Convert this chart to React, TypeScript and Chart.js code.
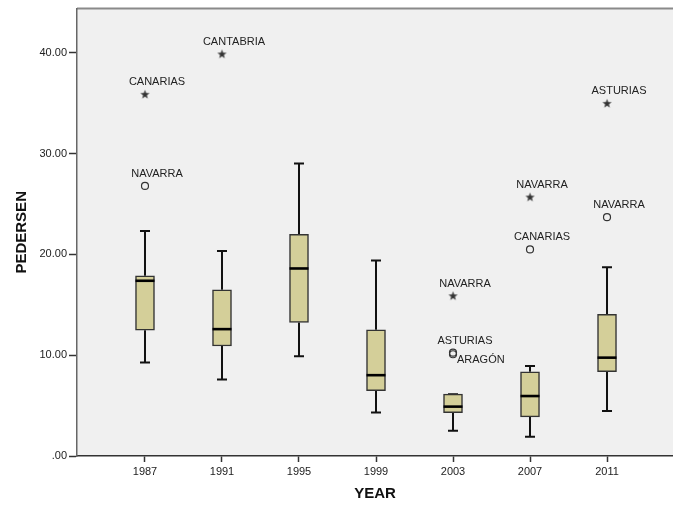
import React, { useEffect, useRef } from 'react';
import { Chart, registerables } from 'chart.js';
Chart.register(...registerables);

// ---- data ----
const years = ['1987', '1991', '1995', '1999', '2003', '2007', '2011'];
const lowerWhisker = [9.27, 7.59, 9.89, 4.31, 2.5, 1.9, 4.47];
const q1 = [12.49, 10.92, 13.25, 6.48, 4.31, 3.88, 8.38];
const median = [17.39, 12.59, 18.61, 8.02, 4.9, 5.95, 9.76];
const q3 = [17.88, 16.5, 21.99, 12.52, 6.14, 8.35, 14.07];
const upperWhisker = [22.32, 20.35, 29.02, 19.4, 6.14, 8.94, 18.74];

// extreme values (stars)
const extremeYearIdx = [0, 1, 4, 5, 6];
const extremeValues = [35.9, 39.9, 15.9, 25.7, 35.0];
const extremeNames = ['CANARIAS', 'CANTABRIA', 'NAVARRA', 'NAVARRA', 'ASTURIAS'];

// outliers (circles)
const outlierYearIdx = [0, 4, 4, 5, 6];
const outlierValues = [26.8, 10.25, 10.1, 20.5, 23.7];
const outlierNames = ['NAVARRA', 'ASTURIAS', 'ARAGÓN', 'CANARIAS', 'NAVARRA'];

const yTicks = [0, 10, 20, 30, 40];

const FONT = '"Liberation Sans", Arial, sans-serif';

function makeStar(): HTMLCanvasElement {
  const c = document.createElement('canvas');
  c.width = 11;
  c.height = 11;
  const g = c.getContext('2d')!;
  g.fillStyle = '#333';
  g.beginPath();
  const cx = 5.5, cy = 5.8, ro = 4.8, ri = 2.0;
  for (let i = 0; i < 10; i++) {
    const r = i % 2 === 0 ? ro : ri;
    const a = -Math.PI / 2 + (i * Math.PI) / 5;
    const px = cx + r * Math.cos(a);
    const py = cy + r * Math.sin(a);
    if (i === 0) g.moveTo(px, py);
    else g.lineTo(px, py);
  }
  g.closePath();
  g.fill();
  return c;
}

const boxPlugin = {
  id: 'boxDecor',
  beforeDraw(chart: any) {
    const { ctx, chartArea: a } = chart;
    ctx.save();
    ctx.fillStyle = '#F0F0F0';
    ctx.fillRect(a.left, a.top, a.right - a.left, a.bottom - a.top);
    ctx.strokeStyle = '#8A8A8A';
    ctx.lineWidth = 2;
    ctx.beginPath();
    ctx.moveTo(a.left, a.top);
    ctx.lineTo(a.right, a.top);
    ctx.stroke();
    ctx.restore();
  },
  beforeDatasetsDraw(chart: any) {
    const { ctx } = chart;
    const xs = chart.scales.x;
    const ys = chart.scales.y;
    ctx.save();
    ctx.strokeStyle = '#111';
    ctx.lineWidth = 2;
    for (let i = 0; i < years.length; i++) {
      const x = xs.getPixelForValue(i);
      const yHi = ys.getPixelForValue(upperWhisker[i]);
      const yQ3 = ys.getPixelForValue(q3[i]);
      const yLo = ys.getPixelForValue(lowerWhisker[i]);
      const yQ1 = ys.getPixelForValue(q1[i]);
      ctx.beginPath();
      ctx.moveTo(x, yQ3);
      ctx.lineTo(x, yHi);
      ctx.moveTo(x - 5, yHi);
      ctx.lineTo(x + 5, yHi);
      ctx.moveTo(x, yQ1);
      ctx.lineTo(x, yLo);
      ctx.moveTo(x - 5, yLo);
      ctx.lineTo(x + 5, yLo);
      ctx.stroke();
    }
    ctx.restore();
  },
  afterDatasetsDraw(chart: any) {
    const { ctx } = chart;
    const xs = chart.scales.x;
    const ys = chart.scales.y;
    ctx.save();
    ctx.strokeStyle = '#000';
    ctx.lineWidth = 2.6;
    for (let i = 0; i < years.length; i++) {
      const x = xs.getPixelForValue(i);
      const y = ys.getPixelForValue(median[i]);
      ctx.beginPath();
      ctx.moveTo(x - 9.5, y);
      ctx.lineTo(x + 9.5, y);
      ctx.stroke();
    }
    // labels
    ctx.font = '11px ' + FONT;
    ctx.fillStyle = '#222';
    chart.data.datasets.forEach((ds: any, di: number) => {
      if (!ds.names) return;
      const meta = chart.getDatasetMeta(di);
      meta.data.forEach((pt: any, k: number) => {
        const v = ds.data[k];
        const crowded = ds.data.some(
          (o: any, j: number) => j !== k && o.x === v.x && o.y > v.y && o.y - v.y < 1
        );
        if (crowded) {
          ctx.textAlign = 'left';
          ctx.textBaseline = 'middle';
          ctx.fillText(ds.names[k], pt.x + 4, pt.y + 6);
        } else {
          ctx.textAlign = 'center';
          ctx.textBaseline = 'middle';
          ctx.fillText(ds.names[k], pt.x + 12, pt.y - 12);
        }
      });
    });
    ctx.restore();
  },
};

export default function App() {
  const ref = useRef<HTMLCanvasElement>(null);
  useEffect(() => {
    document.body.style.margin = '0';
    document.body.style.overflow = 'hidden';
    const star = makeStar();
    const chart = new Chart(ref.current!, {
      type: 'bar',
      data: {
        datasets: [
          {
            type: 'bar',
            data: years.map((_, i) => ({ x: i, y: [q1[i], q3[i]] })) as any,
            backgroundColor: '#D4CF99',
            borderColor: '#333',
            borderWidth: 1.5,
            borderSkipped: false,
            barThickness: 19,
          } as any,
          {
            type: 'scatter',
            data: extremeYearIdx.map((xi, k) => ({ x: xi, y: extremeValues[k] })),
            pointStyle: star,
            pointRadius: 4,
            names: extremeNames,
          } as any,
          {
            type: 'scatter',
            data: outlierYearIdx.map((xi, k) => ({ x: xi, y: outlierValues[k] })),
            pointStyle: 'circle',
            pointRadius: 3.5,
            borderWidth: 1.2,
            borderColor: '#333',
            backgroundColor: 'rgba(0,0,0,0)',
            names: outlierNames,
          } as any,
        ],
      },
      options: {
        responsive: true,
        maintainAspectRatio: false,
        animation: false,
        layout: { autoPadding: false, padding: { top: 7, left: 0, right: 0, bottom: 0 } },
        plugins: { legend: { display: false }, tooltip: { enabled: false } },
        scales: {
          x: {
            type: 'linear',
            offset: false,
            min: -0.883,
            max: 6.857,
            afterBuildTicks: (s: any) => {
              s.ticks = years.map((_, i) => ({ value: i }));
            },
            afterFit: (s: any) => {
              s.height = 50;
              s.paddingLeft = 0;
              s.paddingRight = 0;
            },
            ticks: {
              callback: (v: any) => years[v] ?? '',
              font: { size: 11, family: FONT },
              color: '#222',
              padding: 3,
              autoSkip: false,
              maxRotation: 0,
            },
            grid: {
              offset: false,
              drawOnChartArea: false,
              drawTicks: true,
              tickLength: 6,
              tickColor: '#333',
              tickWidth: 1.5,
            },
            border: { display: true, color: '#333', width: 1.5 },
            title: {
              display: true,
              text: 'YEAR',
              font: { size: 15, weight: 'bold', family: FONT },
              color: '#111',
              padding: { top: 0, bottom: 3 },
            },
          },
          y: {
            type: 'linear',
            min: 0,
            max: 44.4,
            afterBuildTicks: (s: any) => {
              s.ticks = yTicks.map((v) => ({ value: v }));
            },
            afterFit: (s: any) => {
              s.width = 77;
            },
            ticks: {
              callback: (v: any) => (v === 0 ? '.00' : Number(v).toFixed(2)),
              font: { size: 11, family: FONT },
              color: '#222',
              padding: 2,
            },
            grid: {
              drawOnChartArea: false,
              drawTicks: true,
              tickLength: 8,
              tickColor: '#333',
              tickWidth: 1.5,
            },
            border: { display: true, color: '#666', width: 1.5 },
            title: {
              display: true,
              text: 'PEDERSEN',
              font: { size: 15, weight: 'bold', family: FONT },
              color: '#111',
              padding: { top: 13, bottom: 0 },
            },
          },
        },
      } as any,
      plugins: [boxPlugin],
    });
    return () => chart.destroy();
  }, []);
  return (
    <div style={{ width: 673, height: 506, position: 'relative' }}>
      <canvas ref={ref} />
    </div>
  );
}
